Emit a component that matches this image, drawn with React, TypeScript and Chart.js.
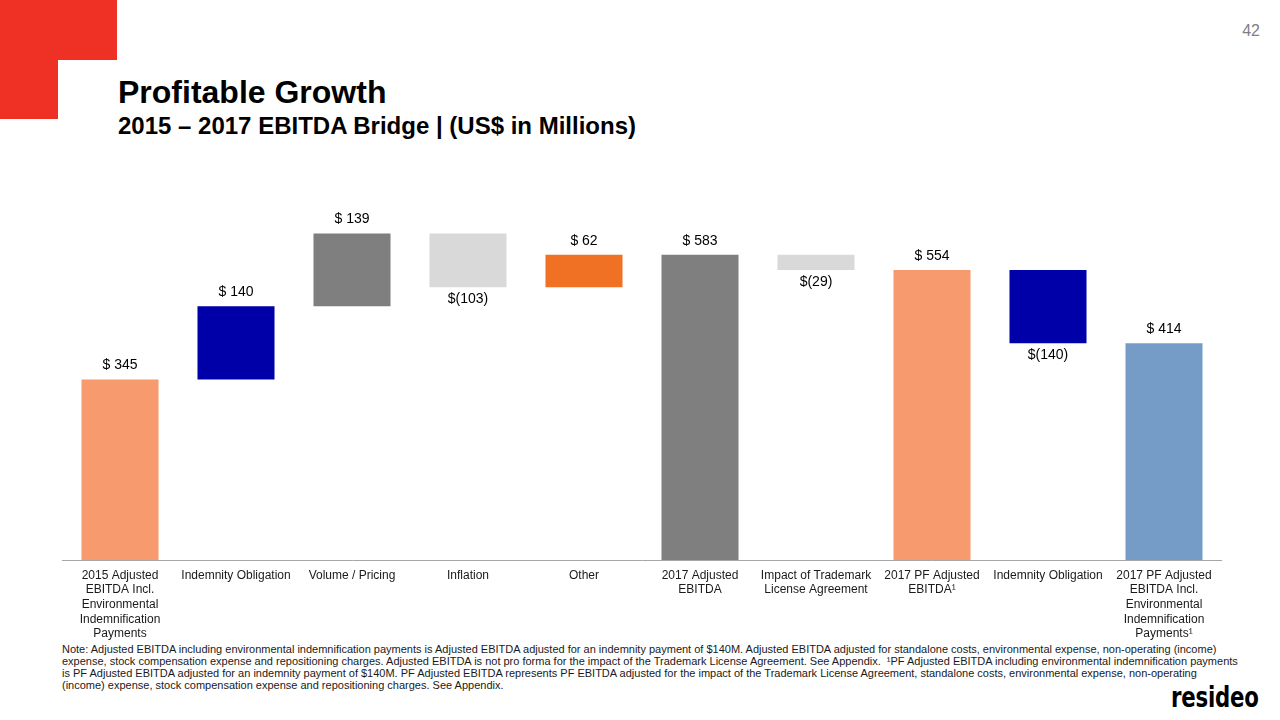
import React, { useEffect, useRef } from "react";
import { Chart, registerables } from "chart.js";

Chart.register(...registerables);

const categories: string[][] = [
  ["2015 Adjusted", "EBITDA Incl.", "Environmental", "Indemnification", "Payments"],
  ["Indemnity Obligation"],
  ["Volume / Pricing"],
  ["Inflation"],
  ["Other"],
  ["2017 Adjusted", "EBITDA"],
  ["Impact of Trademark", "License Agreement"],
  ["2017 PF Adjusted", "EBITDA¹"],
  ["Indemnity Obligation"],
  ["2017 PF Adjusted", "EBITDA Incl.", "Environmental", "Indemnification", "Payments¹"],
];

// Step values: totals are marked in isTotal
const stepValues: number[] = [345, 140, 139, -103, 62, 583, -29, 554, -140, 414];
const isTotal: boolean[] = [true, false, false, false, false, true, false, true, false, true];
const valueLabels: string[] = ["$ 345", "$ 140", "$ 139", "$(103)", "$ 62", "$ 583", "$(29)", "$ 554", "$(140)", "$ 414"];
const barColors: string[] = [
  "#F79B6E", "#0000A8", "#7F7F7F", "#D9D9D9", "#F07124",
  "#7F7F7F", "#D9D9D9", "#F79B6E", "#0000A8", "#759CC7",
];

const noteLines: string[] = [
  "Note: Adjusted EBITDA including environmental indemnification payments is Adjusted EBITDA adjusted for an indemnity payment of $140M. Adjusted EBITDA adjusted for standalone costs, environmental expense, non-operating (income)",
  "expense, stock compensation expense and repositioning charges. Adjusted EBITDA is not pro forma for the impact of the Trademark License Agreement. See Appendix.  ¹PF Adjusted EBITDA including environmental indemnification payments",
  "is PF Adjusted EBITDA adjusted for an indemnity payment of $140M. PF Adjusted EBITDA represents PF EBITDA adjusted for the impact of the Trademark License Agreement, standalone costs, environmental expense, non-operating",
  "(income) expense, stock compensation expense and repositioning charges. See Appendix.",
];

function buildRanges(): [number, number][] {
  const out: [number, number][] = [];
  let running = 0;
  stepValues.forEach((v, i) => {
    if (isTotal[i]) {
      out.push([0, v]);
      running = v;
    } else {
      out.push([running, running + v]);
      running += v;
    }
  });
  return out;
}

const labelPlugin = {
  id: "valueLabels",
  afterDatasetsDraw(chart: any) {
    const ctx = chart.ctx;
    const meta = chart.getDatasetMeta(0);
    ctx.save();
    ctx.font = "14px 'Liberation Sans', Arial, sans-serif";
    ctx.fillStyle = "#000";
    ctx.textAlign = "center";
    ctx.textBaseline = "middle";
    meta.data.forEach((bar: any, i: number) => {
      const { x, y, base } = bar.getProps(["x", "y", "base"], true);
      const top = Math.min(y, base);
      const bottom = Math.max(y, base);
      if (stepValues[i] >= 0) {
        ctx.fillText(valueLabels[i], x, top - 14);
      } else {
        ctx.fillText(valueLabels[i], x, bottom + 12);
      }
    });
    ctx.restore();
  },
};

function WaterfallChart() {
  const ref = useRef<HTMLCanvasElement | null>(null);
  useEffect(() => {
    if (!ref.current) return;
    const chart = new Chart(ref.current, {
      type: "bar",
      data: {
        labels: categories,
        datasets: [
          {
            data: buildRanges() as any,
            backgroundColor: barColors,
            borderWidth: 0,
            barPercentage: 0.664,
            categoryPercentage: 1,
          },
        ],
      },
      options: {
        animation: false,
        responsive: false,
        maintainAspectRatio: false,
        layout: { padding: 0 },
        plugins: {
          legend: { display: false },
          tooltip: { enabled: false },
          title: { display: false },
        },
        scales: {
          x: {
            grid: { display: false, drawTicks: false },
            border: { display: true, color: "#A6A6A6", width: 1 },
            ticks: {
              color: "#1a1a1a",
              font: { family: "'Liberation Sans', Arial, sans-serif", size: 12, lineHeight: 1.22 },
              padding: 8,
              maxRotation: 0,
              autoSkip: false,
            },
            afterFit: (scale: any) => {
              scale.height = 80;
            },
          },
          y: {
            display: false,
            min: 0,
            max: 726,
          },
        },
      },
      plugins: [labelPlugin],
    });
    return () => chart.destroy();
  }, []);
  return (
    <canvas
      ref={ref}
      width={1160}
      height={460}
      style={{ position: "absolute", left: 62, top: 180, width: 1160, height: 460 }}
    />
  );
}

export default function App() {
  const font = "'Liberation Sans', Arial, sans-serif";
  return (
    <div
      style={{
        position: "fixed",
        left: 0,
        top: 0,
        width: 1280,
        height: 720,
        background: "#fff",
        overflow: "hidden",
        fontFamily: font,
      }}
    >
      {/* red corner mark */}
      <div style={{ position: "absolute", left: 0, top: 0, width: 117, height: 60, background: "#EE3124" }} />
      <div style={{ position: "absolute", left: 0, top: 60, width: 58, height: 59, background: "#EE3124" }} />

      <div style={{ position: "absolute", right: 20, top: 22, fontSize: 16, color: "#7f7f7f" }}>42</div>

      <div
        style={{
          position: "absolute",
          left: 118,
          top: 74,
          fontSize: 32,
          fontWeight: "bold",
          color: "#000",
          lineHeight: "37px",
          whiteSpace: "nowrap",
        }}
      >
        Profitable Growth
      </div>
      <div
        style={{
          position: "absolute",
          left: 118,
          top: 111,
          fontSize: 24,
          fontWeight: "bold",
          color: "#000",
          lineHeight: "30px",
          whiteSpace: "nowrap",
        }}
      >
        2015 – 2017 EBITDA Bridge | (US$ in Millions)
      </div>

      <WaterfallChart />

      <div
        style={{
          position: "absolute",
          left: 62,
          top: 643,
          fontSize: 11,
          lineHeight: "12px",
          color: "#1a1a1a",
          whiteSpace: "pre",
        }}
      >
        {noteLines.map((l, i) => (
          <div key={i}>{l}</div>
        ))}
      </div>

      <div
        style={{
          position: "absolute",
          left: 1171,
          top: 682,
          fontSize: 28,
          fontWeight: "bold",
          fontFamily: "'DejaVu Sans', sans-serif",
          color: "#000",
          lineHeight: "32px",
          letterSpacing: -0.3,
          transform: "scaleX(0.76)",
          transformOrigin: "left top",
          whiteSpace: "nowrap",
        }}
      >
        resideo
      </div>
    </div>
  );
}
